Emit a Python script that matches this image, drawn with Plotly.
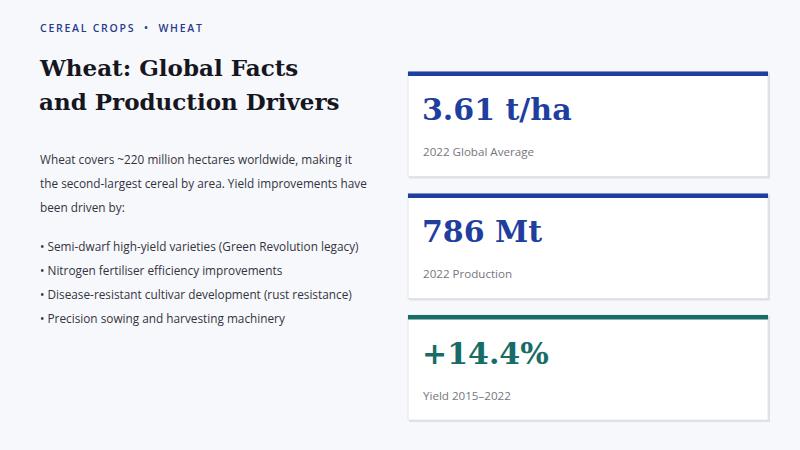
import plotly.graph_objects as go

# slide content
kicker = ["CEREAL CROPS", "WHEAT"]
title_lines = ["Wheat: Global Facts", "and Production Drivers"]
intro_lines = [
    "Wheat covers ~220 million hectares worldwide, making it",
    "the second-largest cereal by area. Yield improvements have",
    "been driven by:",
]
drivers = [
    "Semi-dwarf high-yield varieties (Green Revolution legacy)",
    "Nitrogen fertiliser efficiency improvements",
    "Disease-resistant cultivar development (rust resistance)",
    "Precision sowing and harvesting machinery",
]
stat_values = ["3.61 t/ha", "786 Mt", "+14.4%"]
stat_labels = ["2022 Global Average", "2022 Production", "Yield 2015\u20132022"]

BLUE = "#1f3f9f"
TEAL = "#176d66"
stat_colors = [BLUE, BLUE, TEAL]

SERIF = "DejaVu Serif"
SANS = "Open Sans"

fig = go.Figure()
shapes = []
ann = []


def spaced(s):
    return "\u2009".join(list(s))


ann.append(dict(x=38, y=28, text=spaced(kicker[0]) + "\u2003\u2022\u2003" + spaced(kicker[1]),
                font=dict(family=SANS, size=10.5, color="#2a3a8c", weight=600), xanchor="left", yanchor="middle",
                showarrow=False))
for i, line in enumerate(title_lines):
    ann.append(dict(x=37, y=67 + i * 34.5, text="<b>" + line + "</b>",
                    font=dict(family=SERIF, size=23, color="#16161f"), xanchor="left", yanchor="middle",
                    showarrow=False))
for i, line in enumerate(intro_lines):
    ann.append(dict(x=38, y=159 + i * 23.8, text=line,
                    font=dict(family=SANS, size=11.8, color="#33343c"), xanchor="left", yanchor="middle",
                    showarrow=False))
for i, line in enumerate(drivers):
    ann.append(dict(x=38, y=245.5 + i * 24.3, text="\u2022 " + line,
                    font=dict(family=SANS, size=11.8, color="#33343c"), xanchor="left", yanchor="middle",
                    showarrow=False))

card_top = [71.5, 193.5, 315]
for i, (val, lab, col) in enumerate(zip(stat_values, stat_labels, stat_colors)):
    t = card_top[i]
    # shadow
    shapes.append(dict(type="rect", x0=409, x1=770, y0=t + 1, y1=t + 107, fillcolor="rgba(20,20,60,0.10)",
                       line_width=0, layer="below"))
    shapes.append(dict(type="rect", x0=408, x1=768, y0=t, y1=t + 105, fillcolor="white",
                       line=dict(color="#e3e4ea", width=1), layer="below"))
    shapes.append(dict(type="rect", x0=408, x1=768, y0=t, y1=t + 4.5, fillcolor=col, line_width=0))
    ann.append(dict(x=420, y=t + 38, text="<b>" + val + "</b>",
                    font=dict(family=SERIF, size=30, color=col), xanchor="left", yanchor="middle",
                    showarrow=False))
    ann.append(dict(x=421, y=t + 80, text=lab,
                    font=dict(family=SANS, size=11.6, color="#75767e"), xanchor="left", yanchor="middle",
                    showarrow=False))

fig.update_layout(
    width=800, height=450,
    margin=dict(l=0, r=0, t=0, b=0),
    paper_bgcolor="#f7f8fc", plot_bgcolor="#f7f8fc",
    xaxis=dict(range=[0, 800], visible=False, fixedrange=True),
    yaxis=dict(range=[450, 0], visible=False, fixedrange=True),
    shapes=shapes, annotations=ann, showlegend=False,
)
fig.write_html("out.html", config={"displayModeBar": False},
               post_script="document.body.style.margin='0';document.body.style.overflow='hidden';")
